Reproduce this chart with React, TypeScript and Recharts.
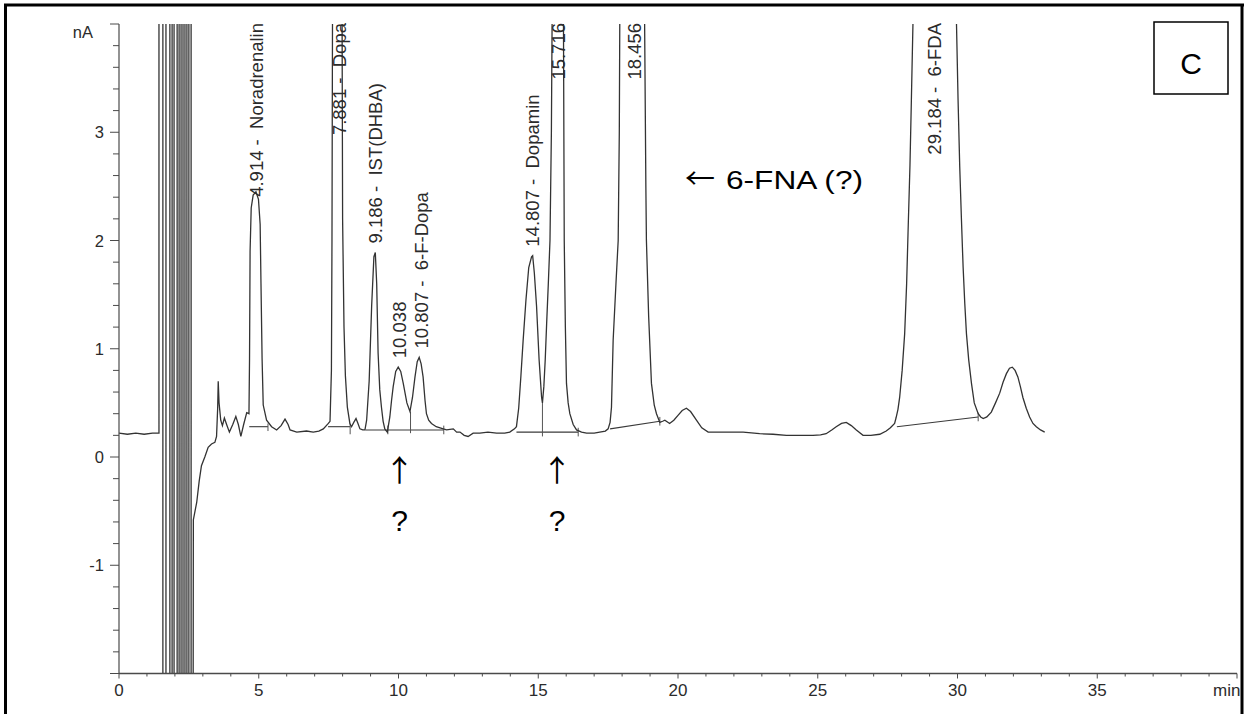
import React from 'react';
import { LineChart, Line, XAxis, YAxis, ReferenceLine, ReferenceDot } from 'recharts';

// ---- chromatogram trace (time in min, signal in nA) ----
const PRE_INJECTION: [number, number][] = [
  [0, 0.22], [0.3, 0.21], [0.6, 0.22], [0.9, 0.21], [1.2, 0.22], [1.43, 0.22],
];

// solvent front: detector swings full scale (off the top / bottom of the plot)
const SOLVENT_FRONT: [number, number][] = [
  [1.43, 5], [1.57, 5], [1.57, -3], [1.68, -3], [1.68, 5], [1.82, 5], [1.82, -3],
  [1.9, -3], [1.9, 5], [1.97, 5], [1.97, -3], [2.08, -3], [2.08, 5], [2.15, 5],
  [2.15, -3], [2.22, -3], [2.22, 5], [2.29, 5], [2.29, -3], [2.36, -3], [2.36, 5],
  [2.43, 5], [2.43, -3], [2.5, -3], [2.5, 5], [2.58, 5], [2.58, -3], [2.65, -3],
];

const EARLY_REGION: [number, number][] = [
  [2.66, -0.58], [2.72, -0.5], [2.78, -0.42], [2.87, -0.22], [2.95, -0.08], [3.07, 0.0],
  [3.19, 0.09], [3.31, 0.12], [3.43, 0.135], [3.49, 0.19], [3.53, 0.45], [3.55, 0.7],
  [3.58, 0.5], [3.64, 0.34], [3.7, 0.29], [3.77, 0.36], [3.85, 0.3], [3.95, 0.23],
  [4.07, 0.3], [4.18, 0.375], [4.27, 0.3], [4.36, 0.19], [4.46, 0.3], [4.57, 0.41],
  [4.65, 0.4],
];

const NORADRENALIN_DOPA: [number, number][] = [
  [4.67, 0.9], [4.69, 1.9], [4.73, 2.3], [4.8, 2.42], [4.9, 2.45], [4.99, 2.38],
  [5.05, 2.15], [5.08, 1.6], [5.12, 0.9], [5.16, 0.48], [5.28, 0.34], [5.46, 0.28],
  [5.64, 0.25], [5.8, 0.29], [5.94, 0.35], [6.05, 0.3], [6.12, 0.25], [6.36, 0.23],
  [6.71, 0.24], [6.95, 0.23], [7.15, 0.24], [7.31, 0.26], [7.49, 0.31], [7.55, 0.33],
  [7.6, 0.8], [7.62, 2.0], [7.64, 4.2], [7.7, 6.5], [7.88, 7.5], [7.95, 6.5],
  [7.98, 4.2], [8.0, 2.2], [8.05, 1.2], [8.1, 0.75], [8.17, 0.46], [8.26, 0.31],
  [8.32, 0.28], [8.4, 0.32], [8.48, 0.355], [8.55, 0.31], [8.62, 0.26], [8.72, 0.25],
  [8.8, 0.25],
];

const IST_FDOPA: [number, number][] = [
  [8.86, 0.34], [8.95, 0.7], [9.04, 1.4], [9.12, 1.85], [9.17, 1.89], [9.22, 1.6],
  [9.27, 0.96], [9.33, 0.62], [9.39, 0.46], [9.45, 0.33], [9.51, 0.26], [9.6, 0.23],
  [9.69, 0.37], [9.75, 0.52], [9.81, 0.65], [9.9, 0.79], [9.99, 0.83], [10.08, 0.79],
  [10.17, 0.68], [10.3, 0.5], [10.41, 0.42], [10.5, 0.55], [10.59, 0.74], [10.67, 0.88],
  [10.74, 0.92], [10.81, 0.86], [10.88, 0.74], [10.95, 0.52], [11.0, 0.4], [11.08, 0.34],
  [11.18, 0.31], [11.35, 0.28], [11.6, 0.26], [11.72, 0.25], [11.96, 0.26], [12.08, 0.23],
  [12.2, 0.23], [12.35, 0.2], [12.49, 0.19], [12.67, 0.22], [12.91, 0.22], [13.2, 0.23],
  [13.51, 0.22], [13.8, 0.22], [13.98, 0.23], [14.15, 0.26],
];

const DOPAMIN_REGION: [number, number][] = [
  [14.22, 0.28], [14.3, 0.45], [14.38, 0.75], [14.46, 1.08], [14.56, 1.45], [14.66, 1.75],
  [14.76, 1.85], [14.8, 1.86], [14.86, 1.7], [14.94, 1.39], [15.03, 0.9], [15.12, 0.55],
  [15.15, 0.5], [15.2, 0.65], [15.25, 0.9], [15.3, 1.23], [15.36, 1.6], [15.42, 2.0],
  [15.47, 3.0], [15.5, 4.2], [15.72, 6.5], [15.9, 4.2], [15.93, 2.0], [15.97, 1.2],
  [16.01, 0.68], [16.07, 0.5], [16.13, 0.4], [16.25, 0.3], [16.37, 0.25], [16.55, 0.23],
  [16.73, 0.22], [17.0, 0.22], [17.2, 0.23], [17.4, 0.24], [17.5, 0.26],
];

const LATE_REGION: [number, number][] = [
  [17.57, 0.32], [17.62, 0.46], [17.68, 1.08], [17.78, 1.6], [17.86, 2.0], [17.9, 3.0],
  [17.92, 4.2], [18.46, 7.5], [18.8, 4.2], [18.85, 2.5], [18.87, 2.0], [18.95, 1.3],
  [19.05, 0.68], [19.15, 0.48], [19.23, 0.4], [19.35, 0.32], [19.45, 0.33], [19.53, 0.34],
  [19.7, 0.31], [19.85, 0.34], [20.0, 0.385], [20.15, 0.43], [20.3, 0.45], [20.45, 0.42],
  [20.66, 0.34], [20.85, 0.27], [21.08, 0.23], [21.4, 0.23], [21.73, 0.23], [22.33, 0.23],
  [22.92, 0.215], [23.4, 0.21], [23.88, 0.2], [24.4, 0.2], [24.83, 0.2], [25.1, 0.205],
  [25.3, 0.215], [25.5, 0.25], [25.66, 0.28], [25.85, 0.31], [26.02, 0.32], [26.2, 0.29],
  [26.38, 0.25], [26.62, 0.2], [26.9, 0.2], [27.22, 0.21], [27.45, 0.24], [27.6, 0.27],
  [27.75, 0.31],
];

const FDA_REGION: [number, number][] = [
  [27.8, 0.36], [27.87, 0.44], [27.93, 0.55], [28.02, 0.8], [28.11, 1.14], [28.18, 1.6],
  [28.23, 2.07], [28.3, 2.7], [28.35, 3.3], [28.41, 4.05], [28.5, 5.5], [29.18, 8],
  [29.85, 5.5], [29.96, 4.05], [30.02, 3.3], [30.08, 2.68], [30.14, 2.2], [30.2, 1.76],
  [30.26, 1.42], [30.32, 1.14], [30.4, 0.9], [30.5, 0.68], [30.6, 0.5], [30.74, 0.4],
  [30.83, 0.37], [30.92, 0.355], [31.05, 0.37], [31.21, 0.415], [31.36, 0.5], [31.51, 0.59],
  [31.63, 0.69], [31.75, 0.77], [31.86, 0.82], [31.96, 0.83], [32.06, 0.8], [32.16, 0.74],
  [32.25, 0.65], [32.34, 0.55], [32.46, 0.45], [32.58, 0.37], [32.7, 0.31], [32.82, 0.28],
  [32.97, 0.25], [33.12, 0.23],
];

// integration baselines [t1, v1, t2, v2]
const BASELINES: [number, number, number, number][] = [
  [4.66, 0.28, 5.33, 0.28],
  [7.48, 0.28, 8.27, 0.28],
  [8.82, 0.25, 11.62, 0.25],
  [14.22, 0.23, 16.43, 0.23],
  [17.57, 0.26, 19.35, 0.33],
  [27.83, 0.28, 30.74, 0.37],
];

// peak boundary marks / drop lines [t, vFrom, vTo]
const DROP_LINES: [number, number, number][] = [
  [5.33, 0.24, 0.31], [8.27, 0.21, 0.31], [9.62, 0.21, 0.29], [10.43, 0.22, 0.42],
  [11.62, 0.21, 0.29], [15.15, 0.19, 0.5], [16.43, 0.19, 0.27], [19.35, 0.29, 0.37],
  [30.74, 0.33, 0.41],
];

// peak annotations: retention time, text, apex (nA), placed at the top of the plot
const PEAK_TIMES = [4.914, 7.881, 9.186, 10.038, 10.807, 14.807, 15.716, 18.456, 29.184];
const PEAK_TEXTS = [
  '4.914 -  Noradrenalin', '7.881 -  Dopa', '9.186 -  IST(DHBA)', '10.038',
  '10.807 -  6-F-Dopa', '14.807 -  Dopamin', '15.716', '18.456', '29.184 -  6-FDA',
];
const PEAK_APEX = [2.45, 7.5, 1.89, 0.83, 0.92, 1.86, 6.5, 7.5, 8];
const PEAK_AT_TOP = [true, true, false, false, false, false, true, true, true];

const Y_TICKS = [
  -2, -1.8, -1.6, -1.4, -1.2, -1, -0.8, -0.6, -0.4, -0.2, 0, 0.2, 0.4, 0.6, 0.8, 1,
  1.2, 1.4, 1.6, 1.8, 2, 2.2, 2.4, 2.6, 2.8, 3, 3.2, 3.4, 3.6, 3.8, 4,
];
const Y_MAJOR = [-2, -1, 0, 1, 2, 3, 4];
const Y_LABELS = [-1, 0, 1, 2, 3];
const X_TICKS = [
  0, 1, 2, 3, 4, 5, 6, 7, 8, 9, 10, 11, 12, 13, 14, 15, 16, 17, 18, 19, 20,
  21, 22, 23, 24, 25, 26, 27, 28, 29, 30, 31, 32, 33, 34, 35, 36, 37, 38, 39, 40,
];
const X_LABELS = [0, 5, 10, 15, 20, 25, 30, 35];

const TRACE = [
  ...PRE_INJECTION, ...SOLVENT_FRONT, ...EARLY_REGION, ...NORADRENALIN_DOPA,
  ...IST_FDOPA, ...DOPAMIN_REGION, ...LATE_REGION, ...FDA_REGION,
].map(([t, v]) => ({ t, v }));

const FONT = "'Liberation Sans', Arial, sans-serif";
const NARROW = "'Liberation Sans Narrow', 'Liberation Sans', Arial, sans-serif";
const ARROW_FONT = "'Noto Sans CJK SC', 'DejaVu Sans', sans-serif";
const INK = '#2b2b2b';
const AXIS = '#4a4a4a';

const YTick = (props: any) => {
  const { x, y, payload } = props;
  const v = payload.value;
  const major = Y_MAJOR.includes(v);
  const len = major ? 9 : 6;
  return (
    <g>
      <line x1={x - len} x2={x} y1={y} y2={y} stroke={AXIS} strokeWidth={1} />
      {Y_LABELS.includes(v) && (
        <text x={x - 15} y={y} textAnchor="end" dominantBaseline="central"
          fontFamily={FONT} fontSize={16.5} fill={INK}>{String(v)}</text>
      )}
    </g>
  );
};

const XTick = (props: any) => {
  const { x, y, payload } = props;
  const v = payload.value;
  const major = v % 5 === 0;
  const len = major ? 5 : 3;
  return (
    <g>
      <line x1={x} x2={x} y1={y} y2={y + len} stroke={AXIS} strokeWidth={1} />
      {X_LABELS.includes(v) && (
        <text x={x} y={y + 22} textAnchor="middle" fontFamily={NARROW}
          fontSize={17} fill={INK}>{String(v)}</text>
      )}
    </g>
  );
};

const makeLabel = (i: number) => (p: any) => {
  const { cx, cy } = p;
  if (cx == null || cy == null) return <g />;
  const top = PEAK_AT_TOP[i];
  const yy = top ? 23 : cy - 9;
  return (
    <text
      x={cx} y={yy}
      transform={`rotate(-90, ${cx}, ${yy})`}
      textAnchor={top ? 'end' : 'start'}
      dominantBaseline="central"
      fontFamily={FONT} fontSize={18.5} fill={INK}
      style={{ whiteSpace: 'pre' }}
    >{PEAK_TEXTS[i]}</text>
  );
};

export default function App() {
  return (
    <div style={{ position: 'absolute', left: 0, top: 0, width: 1248, height: 714, background: '#fff' }}>
      <LineChart width={1248} height={714} data={TRACE}
        margin={{ top: 24, right: 11, bottom: 0, left: 0 }}>
        <XAxis type="number" dataKey="t" domain={[0, 40]} allowDataOverflow
          ticks={X_TICKS} interval={0} height={40.5} tickSize={0} tickMargin={0}
          tickLine={false} tick={<XTick />} axisLine={{ stroke: AXIS, strokeWidth: 1.6 }} />
        <YAxis type="number" domain={[-2, 4]} allowDataOverflow
          ticks={Y_TICKS} interval={0} width={119} tickSize={0} tickMargin={0}
          tickLine={false} tick={<YTick />} axisLine={{ stroke: AXIS, strokeWidth: 1.2 }} />
        {BASELINES.map(([t1, v1, t2, v2], i) => (
          <ReferenceLine key={'b' + i} segment={[{ x: t1, y: v1 }, { x: t2, y: v2 }]}
            stroke="#3a3a3a" strokeWidth={1.1} ifOverflow="visible" />
        ))}
        {DROP_LINES.map(([t, a, b], i) => (
          <ReferenceLine key={'d' + i} segment={[{ x: t, y: a }, { x: t, y: b }]}
            stroke="#555" strokeWidth={1} ifOverflow="visible" />
        ))}
        <Line type="linear" dataKey="v" stroke="#333" strokeWidth={1.3} dot={false}
          isAnimationActive={false} />
        {PEAK_TIMES.map((t, i) => (
          <ReferenceDot key={'p' + i} x={t} y={PEAK_AT_TOP[i] ? 4 : PEAK_APEX[i]} r={0}
            ifOverflow="visible" shape={makeLabel(i)} />
        ))}
      </LineChart>
      <svg width={1248} height={714} style={{ position: 'absolute', left: 0, top: 0, pointerEvents: 'none' }}>
        <text x={93} y={38} textAnchor="end" fontFamily={FONT} fontSize={16.5} fill={INK}>nA</text>
        <text x={1213} y={696} fontFamily={NARROW} fontSize={17} fill={INK}>min</text>
        <text x={685} y={189} fontFamily={ARROW_FONT} fontSize={28} fill="#000"
          textLength={30} lengthAdjust="spacingAndGlyphs">←</text>
        <text x={726} y={189} fontFamily={FONT} fontSize={25} fill="#000"
          textLength={137} lengthAdjust="spacingAndGlyphs">6-FNA (?)</text>
        <text x={399.5} y={481} textAnchor="middle" fontFamily={ARROW_FONT} fontSize={30} fill="#000">↑</text>
        <text x={399.5} y={530.5} textAnchor="middle" fontFamily={FONT} fontSize={30} fill="#000">?</text>
        <text x={557} y={481} textAnchor="middle" fontFamily={ARROW_FONT} fontSize={30} fill="#000">↑</text>
        <text x={557} y={530.5} textAnchor="middle" fontFamily={FONT} fontSize={30} fill="#000">?</text>
        <rect x={1154} y={22} width={74} height={72} fill="none" stroke="#000" strokeWidth={1.5} />
        <text x={1191} y={74} textAnchor="middle" fontFamily={FONT} fontSize={30} fill="#000">C</text>
        <rect x={1243.5} y={0} width={5} height={714} fill="#fff" />
        <line x1={4} y1={5} x2={1244} y2={5} stroke="#000" strokeWidth={3} />
        <line x1={5.5} y1={4} x2={5.5} y2={714} stroke="#000" strokeWidth={3} />
        <line x1={1242} y1={4} x2={1242} y2={714} stroke="#000" strokeWidth={3} />
      </svg>
    </div>
  );
}
